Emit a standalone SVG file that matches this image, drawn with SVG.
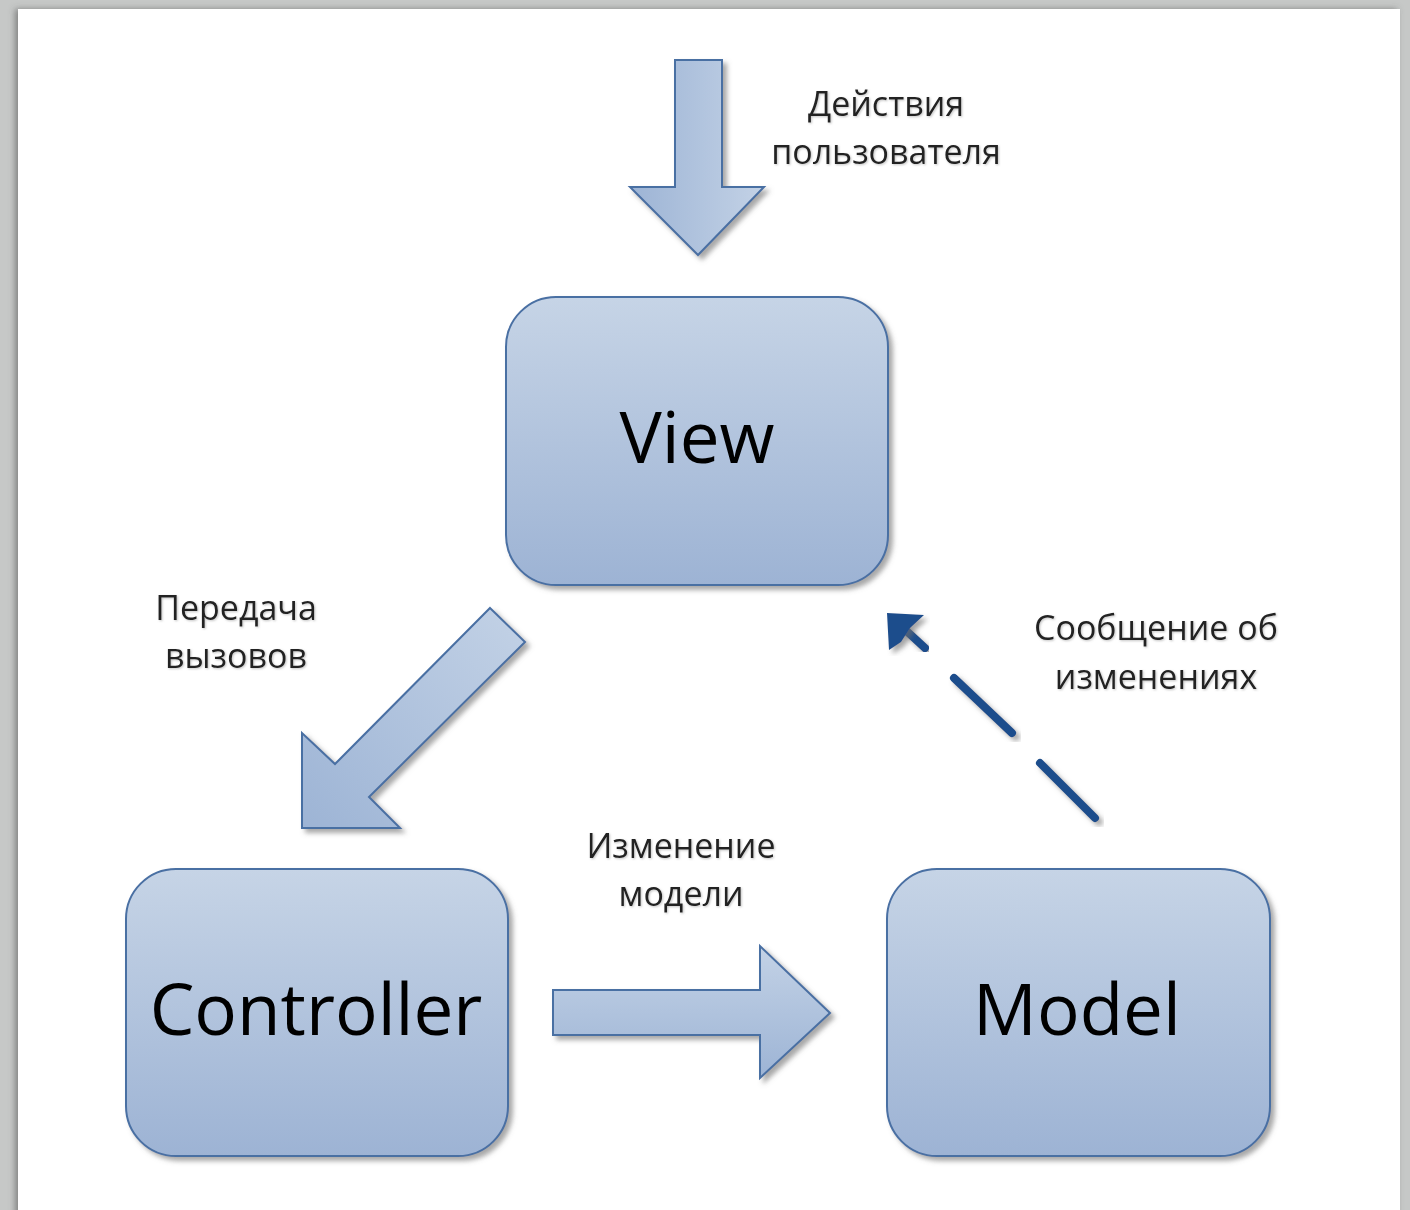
<svg xmlns="http://www.w3.org/2000/svg" width="1410" height="1210" viewBox="0 0 1410 1210">
<defs>
<linearGradient id="gBox" x1="0" y1="0" x2="0" y2="1">
<stop offset="0" stop-color="#c6d4e6"/>
<stop offset="1" stop-color="#9db3d4"/>
</linearGradient>
<linearGradient id="gH" x1="0" y1="0" x2="1" y2="0">
<stop offset="0" stop-color="#9db4d5"/>
<stop offset="1" stop-color="#c3d2e6"/>
</linearGradient>
<linearGradient id="gV" x1="0" y1="0" x2="0" y2="1">
<stop offset="0" stop-color="#c3d2e6"/>
<stop offset="1" stop-color="#9db4d5"/>
</linearGradient>
<linearGradient id="gD" x1="0" y1="1" x2="1" y2="0">
<stop offset="0" stop-color="#9db4d5"/>
<stop offset="1" stop-color="#c3d2e6"/>
</linearGradient>
<filter id="sh" x="-10%" y="-10%" width="125%" height="125%">
<feDropShadow dx="4" dy="4" stdDeviation="2.5" flood-color="#6e6e6e" flood-opacity="0.6"/>
</filter>
<filter id="pageSh" x="-5%" y="-5%" width="110%" height="110%">
<feDropShadow dx="-3" dy="0" stdDeviation="3" flood-color="#555" flood-opacity="0.6"/>
</filter>
<filter id="tsh" x="-10%" y="-20%" width="120%" height="140%">
<feDropShadow dx="1" dy="1" stdDeviation="1" flood-color="#888" flood-opacity="0.5"/>
</filter>
</defs>
<style>
.box{fill:url(#gBox);stroke:#4a6fa3;stroke-width:2;filter:url(#sh)}
.arr{stroke:#4a6fa3;stroke-width:2;stroke-linejoin:miter;filter:url(#sh)}
.big{font-family:"Open Sans","Noto Sans","DejaVu Sans",sans-serif;font-size:71px;fill:#000;text-anchor:middle}
.lbl{font-family:"Open Sans","Noto Sans","DejaVu Sans",sans-serif;font-size:34px;fill:#222;text-anchor:middle;filter:url(#tsh)}
.dash{fill:none;stroke:#1f4e8c;stroke-width:8;stroke-linecap:round;filter:url(#sh)}
</style>
<rect x="0" y="0" width="1410" height="1210" fill="#c6c8c7"/>
<rect x="18" y="9" width="1382" height="1220" fill="#ffffff" filter="url(#pageSh)"/>

<g id="view">
<rect class="box" x="506" y="297" width="382" height="288" rx="50" ry="50"/>
<text class="big" x="697" y="463">View</text>
</g>
<g id="controller">
<rect class="box" x="126" y="869" width="382" height="287" rx="50" ry="50"/>
<text class="big" x="316" y="1035">Controller</text>
</g>
<g id="model">
<rect class="box" x="887" y="869" width="383" height="287" rx="50" ry="50"/>
<text class="big" x="1077" y="1035">Model</text>
</g>

<g id="connectors">
<g id="user-actions">
<polygon class="arr" fill="url(#gH)" points="675,60 722,60 722,187 764,187 698,255 630,187 675,187"/>
<text class="lbl" x="886" y="116">Действия</text>
<text class="lbl" x="886" y="164">пользователя</text>
</g>
<g id="calls">
<polygon class="arr" fill="url(#gD)" points="490,608 525,642 369,797 400,828 302,828 302,733 335,764"/>
<text class="lbl" x="236" y="620">Передача</text>
<text class="lbl" x="236" y="668">вызовов</text>
</g>
<g id="model-change">
<polygon class="arr" fill="url(#gV)" points="553,990 760,990 760,946 830,1013 760,1078 760,1035 553,1035"/>
<text class="lbl" x="681" y="858">Изменение</text>
<text class="lbl" x="681" y="906">модели</text>
</g>
<g id="notify">
<line class="dash" x1="1095" y1="818" x2="1040" y2="763"/>
<line class="dash" x1="1012" y1="733" x2="954" y2="678"/>
<line class="dash" x1="925" y1="648" x2="900" y2="625"/>
<polygon fill="#1f4e8c" filter="url(#sh)" points="887,613 924,615 910,628 901,642 889,650"/>
<text class="lbl" x="1156" y="640">Сообщение об</text>
<text class="lbl" x="1156" y="689">изменениях</text>
</g>
</g>
</svg>
